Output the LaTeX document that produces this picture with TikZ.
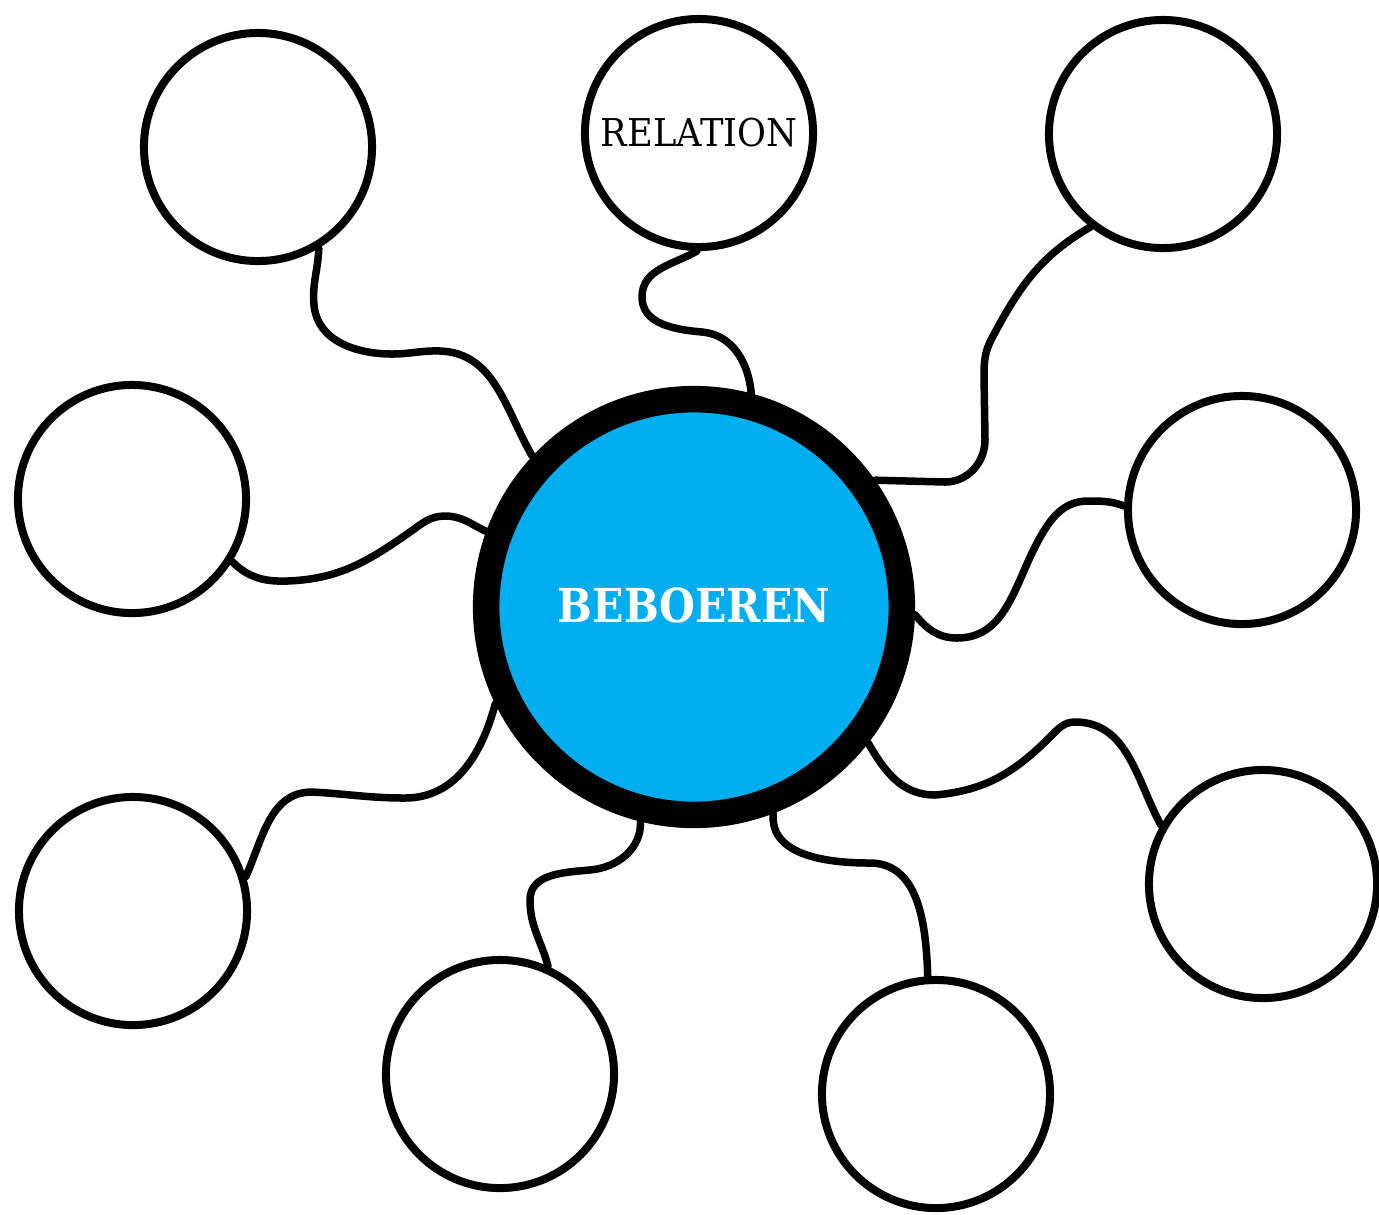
\documentclass[tikz,border=0pt]{standalone}
\usepackage{fontspec}
\setmainfont{DejaVu Serif}
\newfontfamily\slabfont[FakeStretch=0.92]{DejaVu Serif}
\newfontfamily\slabboldfont[FakeStretch=0.88]{DejaVu Serif Bold}
\definecolor{beboblue}{HTML}{00AEEF}
\tikzstyle{bubble} = [circle, line width=0.08cm, minimum size=2.28cm, inner sep=0pt, draw=black, fill=white]
\tikzstyle{hub} = [circle, line width=0.265cm, minimum size=4.155cm, inner sep=0pt, draw=black, fill=beboblue]
\tikzstyle{link} = [line width=0.075cm, line cap=round]

\begin{document}
\begin{tikzpicture}[x=0.01cm, y=0.01cm]
		\useasboundingbox (0,0) rectangle (1379,-1214);
		\node (Hub) [hub, text=white] at (694,-607) {\raisebox{1.2pt}{\slabboldfont\fontsize{13.3}{16}\selectfont BEBOEREN}};
		\node (TopLeft) [bubble] at (258,-147) {};
		\node (Relation) [bubble] at (699,-133) {\slabfont\fontsize{10.9}{13}\selectfont RELATION};
		\node (TopRight) [bubble] at (1163,-134) {};
		\node (MidLeft) [bubble] at (132,-499) {};
		\node (MidRight) [bubble] at (1242,-510) {};
		\node (LowLeft) [bubble] at (133,-911) {};
		\node (BotLeft) [bubble] at (500,-1074) {};
		\node (BotRight) [bubble] at (936,-1094) {};
		\node (LowRight) [bubble] at (1263,-884) {};
		\draw [link] (TopLeft.-59) to[out=-92,in=95] (314,-305) to[out=-85,in=180] (392,-354) to[out=0,in=178] (440,-351) to[out=-2,in=120] (Hub.137);
		\draw [link] (Relation.-91) to[out=-150,in=90] (642,-297) to[out=-90,in=175] (702,-332) to[out=-5,in=95] (Hub.75);
		\draw [link] (TopRight.-128) to[out=-150,in=62] (992,-338) to[out=-118,in=90] (984,-375) -- (985,-440) to[out=-90,in=0] (945,-482) -- (Hub.35);
		\draw [link] (MidLeft.-32) to[out=-45,in=182] (287,-581) to[out=2,in=-145] (410,-532) to[out=35,in=180] (445,-516) to[out=0,in=155] (Hub.160);
		\draw [link] (Hub.-2) to[out=-50,in=180] (957,-638) to[out=0,in=-118] (1037,-543) to[out=62,in=180] (1088,-501) to[out=0,in=160] (MidRight.178);
		\draw [link] (LowLeft.17) to[out=66,in=180] (312,-792) to[out=-3,in=180] (405,-798) to[out=0,in=-105] (Hub.-154);
		\draw [link] (Hub.-104) to[out=-88,in=5] (590,-870) to[out=185,in=90] (530,-900) to[out=-90,in=105] (BotLeft.66);
		\draw [link] (Hub.-69) to[out=-95,in=180] (870,-863) to[out=0,in=92] (BotRight.94);
		\draw [link] (Hub.-38) to[out=-60,in=180] (935,-795) to[out=5,in=-135] (1050,-737) to[out=45,in=180] (1075,-722) to[out=0,in=118] (LowRight.150);
\end{tikzpicture}
\end{document}
